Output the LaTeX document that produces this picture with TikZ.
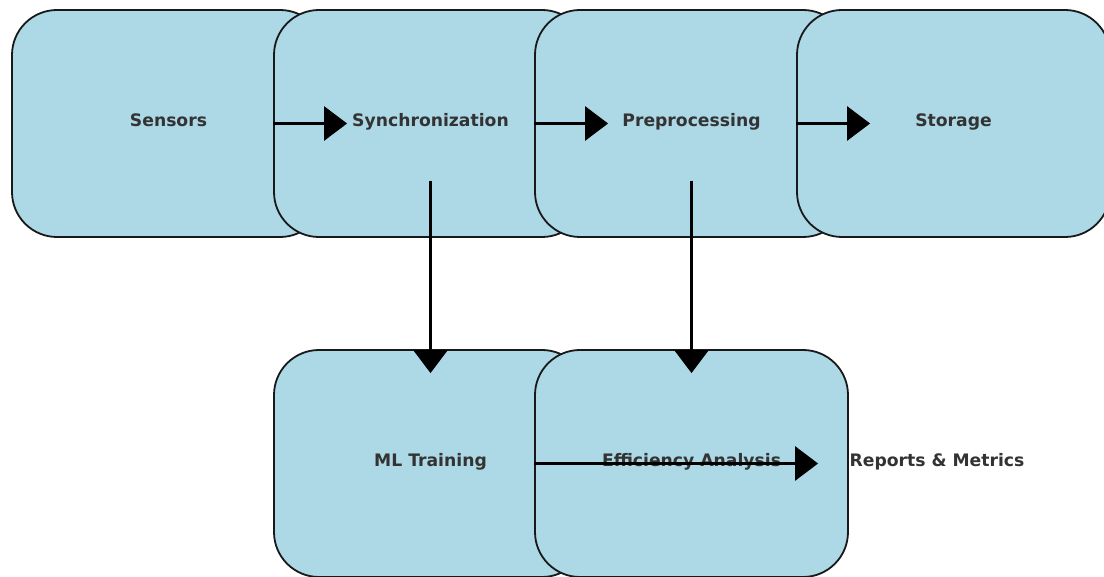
\documentclass[tikz,border=0pt]{standalone}
\usepackage{fontspec}
\setmainfont{DejaVu Sans}
\usepackage{tikz}
\usepackage{xcolor}
\usetikzlibrary{shapes,arrows,arrows.meta,positioning,calc}

\definecolor{boxblue}{HTML}{ADD8E6}
\definecolor{labelgray}{HTML}{333333}

\begin{document}
\begin{tikzpicture}[x=1pt, y=-1pt,
    box/.style={draw=black!90, fill=boxblue, line width=1.8pt, rounded corners=45pt,
        minimum width=313pt, minimum height=227pt, text=labelgray,
        text height=0.8em, text depth=0.12em,
        font=\fontsize{17.2}{20}\selectfont\bfseries},
    lbl/.style={text=labelgray, text height=0.8em, text depth=0.12em,
        font=\fontsize{17.2}{20}\selectfont\bfseries},
    flow/.style={-{Triangle[length=23pt, width=34pt]}, line width=2.7pt, black}]
    \useasboundingbox (0,0) rectangle (1104,577);

    % Top row
    \node[box] (sensors) at (168.5,123.5) {Sensors};
    \node[box] (sync) at (430.5,123.5) {Synchronization};
    \node[box] (prep) at (691.5,123.5) {Preprocessing};
    \node[box] (storage) at (953.5,123.5) {Storage};

    % Bottom row
    \node[box] (mltrain) at (430.5,463.5) {ML Training};
    \node[box] (effic) at (691.5,463.5) {Efficiency Analysis};
    \node[lbl] (reports) at (937,463.5) {Reports \& Metrics};

    % Arrows
    \draw[flow] (sync.west) -- ($(sync.west)+(74,0)$);
    \draw[flow] (prep.west) -- ($(prep.west)+(74,0)$);
    \draw[flow] (storage.west) -- ($(storage.west)+(74,0)$);
    \draw[flow] ($(sync.center)!0.5!(sync.south)$) -- ($(mltrain.north)+(0,24)$);
    \draw[flow] ($(prep.center)!0.5!(prep.south)$) -- ($(effic.north)+(0,24)$);
    \draw[flow] (effic.west) -- ($(reports.west)+(-28,0)$);
\end{tikzpicture}
\end{document}
